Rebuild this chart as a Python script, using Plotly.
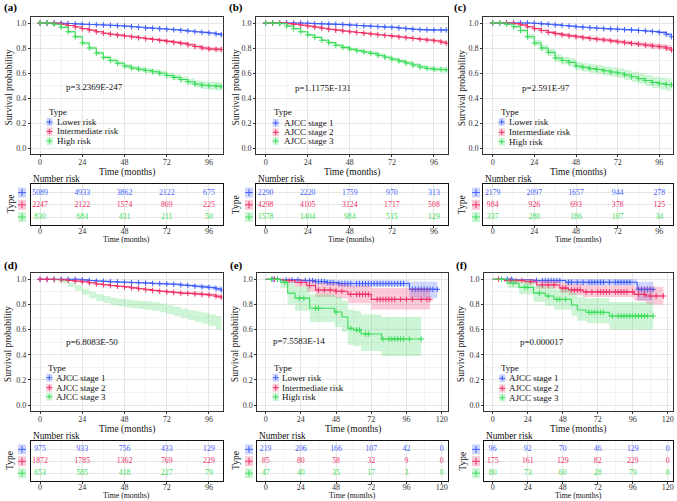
import plotly.graph_objects as go

W, H = 677, 501
FONT = "Liberation Serif"

BLUE, RED, GREEN = "#3F5EFB", "#EF3166", "#3BDD5B"
FILLS = ["rgba(63,94,251,0.25)", "rgba(239,49,102,0.25)", "rgba(59,221,91,0.25)"]
COLORS = [BLUE, RED, GREEN]

RISK_NAMES = ["Lower risk", "Intermediate risk", "High risk"]
STAGE_NAMES = ["AJCC stage 1", "AJCC stage 2", "AJCC stage 3"]

# ---------------- data: panels (a)-(d), read every 4 months ----------------
GRID_T = [0, 4, 8, 12, 16, 20, 24, 28, 32, 36, 40, 44, 48, 52, 56, 60, 64, 68, 72, 76, 80, 84, 88, 92, 96, 100, 103]

A_S1 = [1, 1, 1, 0.998, 0.996, 0.993, 0.99, 0.988, 0.986, 0.984, 0.981, 0.978, 0.975, 0.97, 0.966, 0.961, 0.958, 0.954, 0.95, 0.946, 0.941, 0.936, 0.93, 0.925, 0.92, 0.913, 0.905]
A_CI1 = [0, 0, 0, 0.001, 0.001, 0.002, 0.002, 0.002, 0.002, 0.003, 0.003, 0.003, 0.003, 0.004, 0.004, 0.004, 0.004, 0.005, 0.005, 0.005, 0.006, 0.006, 0.006, 0.007, 0.007, 0.008, 0.009]
A_S2 = [1, 1, 0.998, 0.99, 0.98, 0.968, 0.955, 0.943, 0.93, 0.918, 0.91, 0.903, 0.896, 0.889, 0.882, 0.875, 0.868, 0.861, 0.853, 0.845, 0.837, 0.826, 0.812, 0.8, 0.792, 0.79, 0.788]
A_CI2 = [0, 0, 0.001, 0.002, 0.003, 0.004, 0.005, 0.006, 0.006, 0.007, 0.007, 0.008, 0.008, 0.009, 0.009, 0.01, 0.01, 0.011, 0.011, 0.012, 0.012, 0.013, 0.014, 0.015, 0.016, 0.017, 0.018]
A_S3 = [1, 1, 0.99, 0.965, 0.93, 0.89, 0.84, 0.8, 0.76, 0.725, 0.7, 0.678, 0.655, 0.64, 0.63, 0.62, 0.61, 0.598, 0.58, 0.565, 0.548, 0.53, 0.512, 0.502, 0.498, 0.495, 0.49]
A_CI3 = [0, 0, 0.004, 0.007, 0.009, 0.011, 0.013, 0.014, 0.015, 0.016, 0.017, 0.017, 0.018, 0.018, 0.019, 0.019, 0.02, 0.021, 0.022, 0.023, 0.024, 0.026, 0.028, 0.03, 0.032, 0.034, 0.036]

B_S1 = [1, 1, 1, 1, 1, 1, 0.997, 0.995, 0.993, 0.991, 0.989, 0.987, 0.984, 0.98, 0.977, 0.974, 0.971, 0.968, 0.965, 0.96, 0.955, 0.95, 0.947, 0.945, 0.944, 0.944, 0.944]
B_CI1 = [0, 0, 0, 0, 0, 0, 0.002, 0.002, 0.003, 0.003, 0.003, 0.004, 0.004, 0.004, 0.005, 0.005, 0.005, 0.006, 0.006, 0.006, 0.007, 0.007, 0.008, 0.008, 0.008, 0.009, 0.009]
B_S2 = [1, 1, 1, 0.995, 0.99, 0.983, 0.975, 0.967, 0.958, 0.95, 0.943, 0.936, 0.93, 0.924, 0.918, 0.912, 0.906, 0.9, 0.895, 0.888, 0.882, 0.876, 0.87, 0.864, 0.858, 0.848, 0.838]
B_CI2 = [0, 0, 0, 0.002, 0.003, 0.003, 0.004, 0.004, 0.005, 0.005, 0.005, 0.006, 0.006, 0.006, 0.007, 0.007, 0.007, 0.008, 0.008, 0.008, 0.009, 0.009, 0.01, 0.01, 0.011, 0.012, 0.013]
B_S3 = [1, 1, 0.995, 0.975, 0.955, 0.93, 0.905, 0.885, 0.862, 0.843, 0.822, 0.805, 0.79, 0.779, 0.768, 0.757, 0.742, 0.726, 0.71, 0.695, 0.68, 0.664, 0.648, 0.636, 0.63, 0.628, 0.625]
B_CI3 = [0, 0, 0.002, 0.004, 0.006, 0.007, 0.008, 0.009, 0.01, 0.01, 0.011, 0.011, 0.012, 0.012, 0.013, 0.013, 0.014, 0.014, 0.015, 0.015, 0.016, 0.017, 0.018, 0.019, 0.02, 0.021, 0.022]

C_S1 = [1, 1, 1, 1, 1, 1, 0.997, 0.993, 0.99, 0.985, 0.98, 0.975, 0.97, 0.966, 0.962, 0.958, 0.955, 0.952, 0.95, 0.947, 0.944, 0.94, 0.936, 0.932, 0.925, 0.91, 0.89]
C_CI1 = [0, 0, 0, 0, 0, 0, 0.002, 0.002, 0.003, 0.003, 0.004, 0.004, 0.005, 0.005, 0.005, 0.006, 0.006, 0.006, 0.007, 0.007, 0.008, 0.008, 0.009, 0.009, 0.01, 0.012, 0.015]
C_S2 = [1, 1, 1, 0.995, 0.985, 0.97, 0.955, 0.94, 0.925, 0.915, 0.905, 0.897, 0.89, 0.883, 0.876, 0.87, 0.864, 0.857, 0.85, 0.843, 0.836, 0.83, 0.823, 0.816, 0.81, 0.8, 0.785]
C_CI2 = [0, 0, 0, 0.004, 0.006, 0.008, 0.009, 0.01, 0.011, 0.012, 0.013, 0.013, 0.014, 0.014, 0.015, 0.015, 0.016, 0.016, 0.017, 0.018, 0.018, 0.019, 0.02, 0.021, 0.022, 0.024, 0.026]
C_S3 = [1, 1, 0.99, 0.97, 0.94, 0.89, 0.84, 0.8, 0.765, 0.72, 0.7, 0.685, 0.655, 0.645, 0.635, 0.628, 0.618, 0.608, 0.6, 0.585, 0.57, 0.555, 0.54, 0.525, 0.515, 0.508, 0.505]
C_CI3 = [0, 0, 0.008, 0.012, 0.016, 0.02, 0.024, 0.026, 0.028, 0.03, 0.031, 0.032, 0.033, 0.034, 0.035, 0.036, 0.037, 0.038, 0.039, 0.04, 0.041, 0.042, 0.044, 0.046, 0.048, 0.05, 0.052]

D_S1 = [1, 1, 1, 1, 1, 1, 0.995, 0.99, 0.986, 0.983, 0.98, 0.978, 0.976, 0.974, 0.972, 0.97, 0.967, 0.965, 0.963, 0.96, 0.955, 0.95, 0.945, 0.94, 0.935, 0.925, 0.915]
D_CI1 = [0, 0, 0, 0, 0, 0, 0.004, 0.005, 0.006, 0.006, 0.007, 0.007, 0.007, 0.008, 0.008, 0.008, 0.009, 0.009, 0.009, 0.01, 0.011, 0.012, 0.013, 0.014, 0.015, 0.017, 0.02]
D_S2 = [1, 1, 0.998, 0.995, 0.99, 0.985, 0.98, 0.972, 0.963, 0.957, 0.95, 0.945, 0.94, 0.932, 0.925, 0.918, 0.911, 0.905, 0.9, 0.895, 0.89, 0.888, 0.884, 0.88, 0.875, 0.865, 0.857]
D_CI2 = [0, 0, 0.001, 0.002, 0.003, 0.004, 0.004, 0.005, 0.006, 0.006, 0.007, 0.007, 0.007, 0.008, 0.008, 0.009, 0.009, 0.009, 0.01, 0.01, 0.011, 0.011, 0.012, 0.013, 0.014, 0.015, 0.017]
D_S3 = [1, 1, 0.995, 0.98, 0.955, 0.93, 0.9, 0.875, 0.855, 0.84, 0.825, 0.815, 0.808, 0.802, 0.796, 0.79, 0.783, 0.772, 0.757, 0.745, 0.73, 0.716, 0.703, 0.69, 0.675, 0.655, 0.635]
D_CI3 = [0, 0, 0.006, 0.012, 0.017, 0.021, 0.024, 0.026, 0.027, 0.028, 0.029, 0.03, 0.031, 0.031, 0.032, 0.033, 0.034, 0.035, 0.036, 0.037, 0.038, 0.04, 0.042, 0.044, 0.047, 0.052, 0.06]

# ---------------- data: panels (e)-(f), step curves ----------------
E_T1 = [0, 10, 24, 34, 42, 50, 98, 117]
E_S1 = [1, 0.995, 0.99, 0.982, 0.974, 0.966, 0.92, 0.92]
E_LO1 = [1, 0.985, 0.975, 0.962, 0.95, 0.94, 0.85, 0.85]
E_HI1 = [1, 1, 1, 0.998, 0.995, 0.99, 0.98, 0.98]
E_C1 = [5, 8, 14, 18, 22, 27, 30, 32, 34, 36, 38, 40, 42, 44, 46, 50, 52, 54, 56, 58, 62, 64, 66, 68, 70, 72, 74, 76, 78, 80, 82, 84, 86, 88, 90, 92, 94, 100, 102, 104, 106, 108, 110, 112, 114, 117]
E_T2 = [0, 12, 20, 28, 34, 48, 56, 72, 112]
E_S2 = [1, 0.99, 0.975, 0.95, 0.915, 0.905, 0.88, 0.84, 0.84]
E_LO2 = [1, 0.97, 0.94, 0.9, 0.86, 0.85, 0.81, 0.76, 0.76]
E_HI2 = [1, 1, 1, 0.99, 0.97, 0.965, 0.95, 0.93, 0.93]
E_C2 = [6, 16, 24, 30, 36, 40, 44, 48, 52, 58, 62, 64, 66, 68, 70, 76, 78, 80, 82, 84, 86, 88, 92, 96, 100, 106, 110, 112]
E_T3 = [0, 10, 15, 20, 30, 47, 52, 56, 60, 65, 79, 106]
E_S3 = [1, 0.976, 0.89, 0.85, 0.77, 0.74, 0.70, 0.61, 0.597, 0.565, 0.525, 0.525]
E_LO3 = [1, 0.93, 0.8, 0.75, 0.66, 0.62, 0.58, 0.48, 0.47, 0.43, 0.39, 0.39]
E_HI3 = [1, 1, 0.97, 0.94, 0.88, 0.86, 0.83, 0.76, 0.75, 0.72, 0.70, 0.70]
E_C3 = [4, 8, 13, 23, 26, 34, 36, 48, 58, 62, 64, 68, 70, 80, 84, 86, 88, 90, 92, 94, 98, 106]

F_T1 = [0, 14, 28, 50, 99, 110]
F_S1 = [1, 0.996, 0.99, 0.976, 0.92, 0.92]
F_LO1 = [1, 0.985, 0.97, 0.95, 0.83, 0.83]
F_HI1 = [1, 1, 1, 1, 0.98, 0.98]
F_C1 = [6, 10, 13, 30, 34, 36, 38, 40, 42, 44, 46, 52, 54, 58, 62, 66, 68, 70, 72, 74, 76, 80, 84, 86, 88, 90, 92, 94, 100, 102, 104, 106, 108, 110]
F_T2 = [0, 8, 22, 30, 46, 52, 62, 97, 105, 117]
F_S2 = [1, 0.99, 0.98, 0.955, 0.93, 0.915, 0.9, 0.88, 0.867, 0.867]
F_LO2 = [1, 0.975, 0.96, 0.925, 0.89, 0.875, 0.86, 0.83, 0.80, 0.80]
F_HI2 = [1, 1, 1, 0.99, 0.97, 0.96, 0.95, 0.94, 0.94, 0.94]
F_C2 = [4, 12, 16, 20, 26, 34, 38, 42, 48, 50, 54, 56, 58, 60, 64, 68, 72, 74, 76, 78, 80, 84, 86, 88, 90, 92, 96, 100, 104, 108, 112, 117]
F_T3 = [0, 10, 18, 28, 36, 42, 54, 58, 64, 80, 110]
F_S3 = [1, 0.968, 0.936, 0.89, 0.867, 0.84, 0.796, 0.756, 0.737, 0.708, 0.708]
F_LO3 = [1, 0.93, 0.88, 0.82, 0.79, 0.76, 0.71, 0.67, 0.65, 0.60, 0.60]
F_HI3 = [1, 1, 0.98, 0.95, 0.94, 0.92, 0.89, 0.86, 0.85, 0.82, 0.82]
F_C3 = [6, 14, 22, 24, 32, 38, 44, 46, 50, 66, 68, 70, 72, 74, 76, 82, 86, 88, 90, 92, 94, 96, 98, 100, 102, 104, 106, 110]

# ---------------- number at risk ----------------
TABLE_T_SHORT = [0, 24, 48, 72, 96]
TABLE_T_LONG = [0, 24, 48, 72, 96, 120]
A_RISK = [[5089, 4933, 3862, 2122, 675], [2247, 2122, 1574, 869, 225], [830, 684, 431, 211, 50]]
B_RISK = [[2290, 2220, 1759, 970, 313], [4298, 4105, 3124, 1717, 508], [1578, 1404, 984, 515, 129]]
C_RISK = [[2179, 2097, 1657, 944, 278], [984, 926, 693, 378, 125], [337, 280, 186, 107, 34]]
D_RISK = [[975, 933, 756, 433, 129], [1872, 1785, 1362, 769, 229], [653, 585, 418, 227, 79]]
E_RISK = [[219, 206, 166, 107, 42, 0], [85, 80, 58, 32, 9, 0], [47, 40, 35, 17, 3, 0]]
F_RISK = [[96, 92, 70, 46, 129, 0], [175, 161, 129, 82, 229, 0], [80, 73, 60, 28, 79, 0]]

P_VALUES = {"a": "p=3.2369E-247", "b": "p=1.1175E-131", "c": "p=2.591E-97",
            "d": "p=6.8083E-50", "e": "p=7.5583E-14", "f": "p=0.000017"}


def grid_series(s, ci):
    lo = [max(0, v - c) for v, c in zip(s, ci)]
    hi = [min(1, v + c) for v, c in zip(s, ci)]
    return dict(t=GRID_T, s=s, lo=lo, hi=hi, c=GRID_T)


PANELS = {
    "a": dict(series=[grid_series(A_S1, A_CI1), grid_series(A_S2, A_CI2), grid_series(A_S3, A_CI3)],
              names=RISK_NAMES, risk=A_RISK, tt=TABLE_T_SHORT),
    "b": dict(series=[grid_series(B_S1, B_CI1), grid_series(B_S2, B_CI2), grid_series(B_S3, B_CI3)],
              names=STAGE_NAMES, risk=B_RISK, tt=TABLE_T_SHORT),
    "c": dict(series=[grid_series(C_S1, C_CI1), grid_series(C_S2, C_CI2), grid_series(C_S3, C_CI3)],
              names=RISK_NAMES, risk=C_RISK, tt=TABLE_T_SHORT),
    "d": dict(series=[grid_series(D_S1, D_CI1), grid_series(D_S2, D_CI2), grid_series(D_S3, D_CI3)],
              names=STAGE_NAMES, risk=D_RISK, tt=TABLE_T_SHORT),
    "e": dict(series=[dict(t=E_T1, s=E_S1, lo=E_LO1, hi=E_HI1, c=E_C1),
                      dict(t=E_T2, s=E_S2, lo=E_LO2, hi=E_HI2, c=E_C2),
                      dict(t=E_T3, s=E_S3, lo=E_LO3, hi=E_HI3, c=E_C3)],
              names=RISK_NAMES, risk=E_RISK, tt=TABLE_T_LONG),
    "f": dict(series=[dict(t=F_T1, s=F_S1, lo=F_LO1, hi=F_HI1, c=F_C1),
                      dict(t=F_T2, s=F_S2, lo=F_LO2, hi=F_HI2, c=F_C2),
                      dict(t=F_T3, s=F_S3, lo=F_LO3, hi=F_HI3, c=F_C3)],
              names=STAGE_NAMES, risk=F_RISK, tt=TABLE_T_LONG),
}

# ---------------- layout geometry (pixels) ----------------
KM_BOX = {"a": (30.7, 222.7, 16.75, 154.25), "b": (256, 448, 16.75, 154.25), "c": (483, 673, 16.75, 154.25),
          "d": (30.7, 222.7, 273.0, 411.3), "e": (257.3, 447.7, 273.0, 411.3), "f": (484, 672.7, 273.0, 411.3)}
TAB_Y = {"a": (184, 225), "b": (184, 225), "c": (184, 225), "d": (441, 481), "e": (441, 481), "f": (441, 481)}
XR = {"a": (-5.3, 103.8), "b": (-5.5, 104.0), "c": (-5.6, 103.9), "d": (-5.3, 103.8),
      "e": (-5.7, 124.1), "f": (-6.0, 123.4)}
PV_POS = {"a": (13.6, 0.49), "b": (15.7, 0.477), "c": (15.7, 0.477), "d": (13.8, 0.499),
          "e": (3.4, 0.51), "f": (17.6, 0.504)}
LEG = {"a": (47, 112, 49.5, 55, (122, 131.5, 141)), "b": (271.7, 112, 275.7, 281.7, (123, 132.3, 141)),
       "c": (499, 112, 501.7, 507.3, (122, 132.3, 141.7)), "d": (45.7, 367.7, 49.3, 54.3, (377.7, 387.7, 396.7)),
       "e": (271.7, 367.7, 275.7, 280, (377.7, 387.7, 397)), "f": (499.3, 368.3, 502.3, 507.3, (378.3, 388.3, 397.7))}
LABEL_POS = {"a": (2, 8), "b": (227, 8), "c": (452, 8), "d": (2, 265), "e": (228, 265), "f": (454, 265)}
YTITLE_X = {"a": 8, "b": 235, "c": 461.7, "d": 8, "e": 235, "f": 461}
TYPE_X = {"a": 10, "b": 235.7, "c": 461.7, "d": 10, "e": 236, "f": 462.7}
KEY_X = {"a": 22, "b": 249, "c": 476, "d": 22, "e": 249, "f": 476}
TAB_YR = (0.35, 3.7)


def PX(x):
    return x / W


def PY(y):
    return 1 - y / H


def step_at(ts, ss, t):
    v = ss[0]
    for ti, si in zip(ts, ss):
        if ti <= t:
            v = si
    return v


fig = go.Figure()
layout = dict(width=W, height=H, margin=dict(l=0, r=0, t=0, b=0), paper_bgcolor="white",
              plot_bgcolor="white", showlegend=False, font=dict(family=FONT, color="#1A1A1A"))
annotations = []
shapes = []

GRID = "#E6E6E6"
MINOR = "#F3F3F3"
TICKF = dict(family=FONT, size=8, color="#333333")

for i, key in enumerate("abcdef"):
    P = PANELS[key]
    x0, x1, y0, y1 = KM_BOX[key]
    ty0, ty1 = TAB_Y[key]
    kx = "x" if i == 0 else f"x{i + 1}"
    ky = "y" if i == 0 else f"y{i + 1}"
    tx = f"x{i + 7}"
    tyn = f"y{i + 7}"
    kxl = "xaxis" if i == 0 else f"xaxis{i + 1}"
    kyl = "yaxis" if i == 0 else f"yaxis{i + 1}"
    txl = f"xaxis{i + 7}"
    tyl = f"yaxis{i + 7}"

    common_x = dict(range=list(XR[key]), tick0=0, dtick=24, showgrid=True, gridcolor=GRID, gridwidth=0.7,
                    minor=dict(dtick=12, showgrid=True, gridcolor=MINOR, gridwidth=0.5),
                    zeroline=False, showline=True, linecolor="#333333", linewidth=0.8, mirror=True,
                    ticks="outside", ticklen=2, tickwidth=0.7, tickcolor="#333333", tickfont=TICKF)
    layout[kxl] = dict(common_x, domain=[PX(x0), PX(x1)], anchor=ky, ticklabelstandoff=-2)
    layout[kyl] = dict(domain=[PY(y1), PY(y0)], anchor=kx, range=[-0.05, 1.05], tick0=0, dtick=0.2,
                       tickformat=".1f", showgrid=True, gridcolor=GRID, gridwidth=0.7,
                       minor=dict(dtick=0.1, showgrid=True, gridcolor=MINOR, gridwidth=0.5),
                       zeroline=False, showline=True, linecolor="#333333", linewidth=0.8, mirror=True,
                       ticks="outside", ticklen=2, tickwidth=0.7, tickcolor="#333333", tickfont=TICKF)
    layout[txl] = dict(common_x, domain=[PX(x0), PX(x1)], anchor=tyn, linecolor="#111111", linewidth=1,
                       ticklabelstandoff=-4)
    layout[tyl] = dict(domain=[PY(ty1), PY(ty0)], anchor=tx, range=list(TAB_YR), tickvals=[1, 2, 3],
                       showticklabels=False, showgrid=True, gridcolor=GRID, gridwidth=0.7, zeroline=False,
                       showline=True, linecolor="#111111", linewidth=1, mirror=True, ticks="")

    # curves
    for j, S in enumerate(P["series"]):
        fig.add_trace(go.Scatter(x=S["t"], y=S["hi"], xaxis=kx, yaxis=ky, mode="lines",
                                 line=dict(width=0, shape="hv"), hoverinfo="skip"))
        fig.add_trace(go.Scatter(x=S["t"], y=S["lo"], xaxis=kx, yaxis=ky, mode="lines",
                                 line=dict(width=0, shape="hv"), fill="tonexty", fillcolor=FILLS[j],
                                 hoverinfo="skip"))
        hide = (key == "d" and j == 2)
        if not hide:
            fig.add_trace(go.Scatter(x=S["t"], y=S["s"], xaxis=kx, yaxis=ky, mode="lines",
                                     line=dict(width=1.1, shape="hv", color=COLORS[j])))
            cy = [step_at(S["t"], S["s"], c) for c in S["c"]]
            fig.add_trace(go.Scatter(x=S["c"], y=cy, xaxis=kx, yaxis=ky, mode="markers",
                                     marker=dict(symbol="cross-thin", size=4,
                                                 line=dict(width=1, color=COLORS[j]))))

    # risk table
    for j, row in enumerate(P["risk"]):
        fig.add_trace(go.Scatter(x=P["tt"], y=[3 - j] * len(row), xaxis=tx, yaxis=tyn, mode="text",
                                 text=[str(v) for v in row],
                                 textfont=dict(family=FONT, size=7.8, color=COLORS[j])))

    # annotations
    lx, ly = LABEL_POS[key]
    annotations.append(dict(text=f"<b>({key})</b>", x=PX(lx), y=PY(ly), xref="paper", yref="paper",
                            xanchor="left", yanchor="middle", showarrow=False,
                            font=dict(family=FONT, size=11, color="black")))
    pvx, pvy = PV_POS[key]
    annotations.append(dict(text=P_VALUES[key], x=pvx, y=pvy, xref=kx, yref=ky, xanchor="left",
                            yanchor="middle", showarrow=False, font=dict(family=FONT, size=9, color="#111")))
    tgx, tgy, kcx, ttx, rows = LEG[key]
    annotations.append(dict(text="Type", x=PX(tgx), y=PY(tgy), xref="paper", yref="paper", xanchor="left",
                            yanchor="middle", showarrow=False, font=dict(family=FONT, size=9, color="#111")))
    for j, ry in enumerate(rows):
        annotations.append(dict(text=P["names"][j], x=PX(ttx), y=PY(ry), xref="paper", yref="paper",
                                xanchor="left", yanchor="middle", showarrow=False,
                                font=dict(family=FONT, size=9, color="#111")))
        shapes.append(dict(type="rect", xref="paper", yref="paper", x0=PX(kcx - 3), x1=PX(kcx + 3),
                           y0=PY(ry + 4), y1=PY(ry - 4), fillcolor=FILLS[j], line=dict(width=0)))
        shapes.append(dict(type="line", xref="paper", yref="paper", x0=PX(kcx - 3), x1=PX(kcx + 3),
                           y0=PY(ry), y1=PY(ry), line=dict(color=COLORS[j], width=1)))
        shapes.append(dict(type="line", xref="paper", yref="paper", x0=PX(kcx), x1=PX(kcx),
                           y0=PY(ry + 2.5), y1=PY(ry - 2.5), line=dict(color=COLORS[j], width=1)))

    annotations.append(dict(text="Survival probability", x=PX(YTITLE_X[key]), y=PY((y0 + y1) / 2 + 2),
                            xref="paper", yref="paper", xanchor="center", yanchor="middle", textangle=-90,
                            showarrow=False, font=dict(family=FONT, size=9.5, color="#111")))
    annotations.append(dict(text="Time (months)", x=PX((x0 + x1) / 2), y=PY(y1 + 18.5), xref="paper",
                            yref="paper", xanchor="center", yanchor="middle", showarrow=False,
                            font=dict(family=FONT, size=9.5, color="#111")))
    annotations.append(dict(text="Number risk", x=PX(x0), y=PY(ty0 - 5), xref="paper", yref="paper",
                            xanchor="left", yanchor="middle", showarrow=False,
                            font=dict(family=FONT, size=9.3, color="#111")))
    annotations.append(dict(text="Time (months)", x=PX((x0 + x1) / 2), y=PY(ty1 + 14.5), xref="paper",
                            yref="paper", xanchor="center", yanchor="middle", showarrow=False,
                            font=dict(family=FONT, size=7.8, color="#111")))
    annotations.append(dict(text="Type", x=PX(TYPE_X[key]), y=PY((ty0 + ty1) / 2), xref="paper",
                            yref="paper", xanchor="center", yanchor="middle", textangle=-90, showarrow=False,
                            font=dict(family=FONT, size=9.5, color="#111")))
    # key squares in the table
    unit = (ty1 - ty0) / (TAB_YR[1] - TAB_YR[0])
    for j in range(3):
        ry = ty0 + (TAB_YR[1] - (3 - j)) * unit
        kxp = KEY_X[key]
        shapes.append(dict(type="rect", xref="paper", yref="paper", x0=PX(kxp - 4), x1=PX(kxp + 4),
                           y0=PY(ry + 5), y1=PY(ry - 5), fillcolor=FILLS[j], line=dict(width=0)))
        shapes.append(dict(type="line", xref="paper", yref="paper", x0=PX(kxp - 4), x1=PX(kxp + 4),
                           y0=PY(ry), y1=PY(ry), line=dict(color=COLORS[j], width=1)))
        shapes.append(dict(type="line", xref="paper", yref="paper", x0=PX(kxp), x1=PX(kxp),
                           y0=PY(ry + 3.5), y1=PY(ry - 3.5), line=dict(color=COLORS[j], width=1)))

layout["annotations"] = annotations
layout["shapes"] = shapes
fig.update_layout(**layout)
fig.write_html("out.html", config={"displayModeBar": False},
               post_script="document.body.style.margin='0';document.body.style.overflow='hidden';")
